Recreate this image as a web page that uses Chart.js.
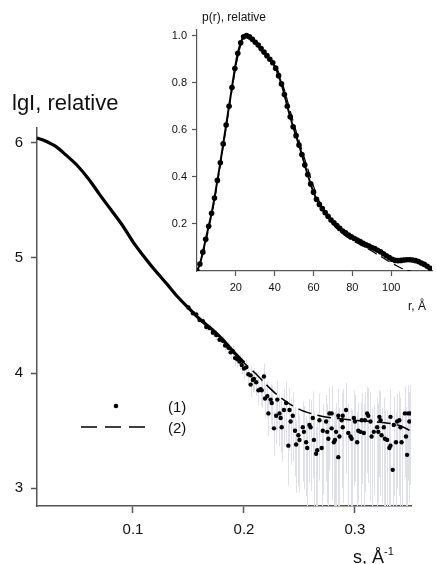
<!DOCTYPE html>
<html>
<head>
<meta charset="utf-8">
<script src="https://cdn.jsdelivr.net/npm/chart.js@4.4.1/dist/chart.umd.min.js"></script>
<style>
body{margin:0;background:#fff;}
#wrap{position:relative;width:436px;height:564px;font-family:"Liberation Sans",Arial,sans-serif;color:#111;}
canvas{position:absolute;}
.t{position:absolute;white-space:nowrap;line-height:1;}
</style>
</head>
<body>
<div id="wrap">
<canvas id="mainChart" width="436" height="564" style="left:0;top:0"></canvas>
<canvas id="insetChart" width="286" height="320" style="left:150px;top:0"></canvas>

<div class="t" style="left:12px;top:92px;font-size:22px">lgI, relative</div>
<div class="t" style="left:353px;top:546px;font-size:18px">s, Å<sup style="font-size:11px;vertical-align:8px">-1</sup></div>
<div class="t" style="left:202px;top:11px;font-size:12px">p(r), relative</div>
<div class="t" style="left:408px;top:300px;font-size:12px">r, Å</div>

<svg style="position:absolute;left:0;top:0" width="436" height="564">
<circle cx="116" cy="406" r="2.3" fill="#000"/>
<line x1="81" y1="427" x2="145" y2="427" stroke="#000" stroke-width="1.5" stroke-dasharray="16 8"/>
</svg>
<div class="t" style="left:168px;top:399px;font-size:15px">(1)</div>
<div class="t" style="left:168px;top:420px;font-size:15px">(2)</div>
</div>

<script>
document.addEventListener("DOMContentLoaded", function () {

/* ================================
   DATA - scattering curve
================================ */

// smooth, dense part of the experimental curve
const denseS  = [0.0135,0.02,0.03,0.04,0.05,0.06,0.07,0.08,0.09,0.10,0.11,0.12,0.13,0.14,0.15,0.16,0.17,0.18,0.19,0.20];
const denseLg = [6.04,6.02,5.97,5.89,5.80,5.685,5.55,5.42,5.29,5.14,5.01,4.89,4.78,4.665,4.565,4.47,4.39,4.30,4.19,4.09];

// noisy experimental points (1) and their relative errors
const expS = [0.150,0.154,0.157,0.160,0.163,0.166,0.169,0.172,0.175,0.178,0.181,0.183,0.186,0.188,0.190,0.192,0.194,0.196,0.198,0.200,
0.202,0.204,0.206,0.206,0.208,0.209,0.211,0.213,0.215,0.216,0.218,0.219,0.221,0.222,0.224,0.225,0.227,0.229,0.230,0.232,
0.233,0.234,0.236,0.238,0.240,0.241,0.242,0.244,0.246,0.247,0.249,0.250,
0.253,0.254,0.256,0.257,0.259,0.260,0.262,0.263,0.265,0.266,0.268,0.270,0.271,0.274,0.275,0.276,0.277,0.279,0.279,0.281,
0.282,0.283,0.285,0.285,0.286,0.288,0.289,0.289,0.292,0.294,0.296,0.297,0.299,0.300,0.302,0.303,0.305,0.306,0.308,0.309,
0.311,0.312,0.314,0.315,0.317,0.320,0.321,0.322,0.323,0.324,0.326,0.327,0.329,0.331,0.332,0.332,0.334,0.335,0.337,0.338,
0.340,0.341,0.342,0.345,0.346,0.347,0.348,0.349,0.350];
const expLg = [4.57,4.52,4.51,4.46,4.45,4.40,4.39,4.35,4.33,4.29,4.28,4.24,4.22,4.18,4.19,4.13,4.12,4.10,4.07,4.04,
4.05,3.99,3.98,3.90,3.94,3.95,3.92,3.85,3.86,3.85,3.97,3.78,3.80,3.65,3.77,3.74,3.52,3.63,3.77,3.65,
3.61,3.53,3.68,3.74,3.37,3.68,3.58,3.63,3.50,3.38,3.46,3.42,
3.53,3.49,3.40,3.35,3.55,3.53,3.61,3.42,3.30,3.33,3.59,3.35,3.50,3.58,3.49,3.43,3.65,3.65,3.52,3.40,
3.42,3.49,3.63,3.27,3.45,3.59,3.63,3.53,3.68,3.48,3.45,3.43,3.61,3.58,3.40,3.50,3.49,3.59,3.48,3.59,
3.65,3.63,3.58,3.45,3.49,3.53,3.49,3.62,3.59,3.46,3.53,3.43,3.42,3.35,3.62,3.37,3.16,3.55,3.40,3.58,
3.59,3.53,3.40,3.65,3.45,3.29,3.65,3.58,3.65];
const expErr = [0.06,0.06,0.07,0.07,0.08,0.08,0.09,0.09,0.10,0.10,0.11,0.12,0.12,0.13,0.14,0.14,0.15,0.16,0.17,0.18,
0.18,0.20,0.20,0.22,0.22,0.24,0.24,0.26,0.28,0.30,0.30,0.32,0.34,0.36,0.38,0.40,0.42,0.44,0.46,0.48,
0.50,0.50,0.52,0.54,0.55,0.56,0.58,0.60,0.60,0.62,0.64,0.65,
0.66,0.68,0.66,0.70,0.68,0.72,0.70,0.74,0.72,0.76,0.70,0.78,0.72,0.70,0.76,0.74,0.68,0.72,0.76,0.80,
0.74,0.78,0.72,0.82,0.76,0.74,0.70,0.78,0.72,0.80,0.76,0.78,0.74,0.70,0.82,0.76,0.80,0.72,0.78,0.76,
0.70,0.74,0.80,0.78,0.72,0.80,0.76,0.70,0.78,0.74,0.82,0.76,0.80,0.78,0.72,0.84,0.80,0.76,0.82,0.74,
0.78,0.80,0.76,0.72,0.80,0.78,0.74,0.80,0.76];

// model curve (2)
const fitS  = [0.0135,0.02,0.03,0.04,0.05,0.06,0.07,0.08,0.09,0.10,0.11,0.12,0.13,0.14,0.15,0.16,0.17,0.18,0.19,0.20,
0.21,0.22,0.23,0.24,0.25,0.26,0.27,0.28,0.29,0.30,0.31,0.32,0.33,0.34,0.35];
const fitLg = [6.04,6.02,5.97,5.89,5.80,5.685,5.55,5.42,5.29,5.14,5.01,4.89,4.78,4.665,4.565,4.47,4.39,4.30,4.19,4.09,
4.00,3.90,3.81,3.74,3.685,3.65,3.625,3.61,3.60,3.59,3.583,3.575,3.565,3.545,3.50];

const sTicks = [0.1,0.2,0.3];
const lgTicks = [3,4,5,6];

/* ================================
   DATA - distance distribution (inset)
================================ */

const prR = [0,1.5,3,4.5,6,7.5,9,10.5,12,13.5,15,16.5,18,19.5,21,22.5,24,25.5,27,28.5,30,31.5,33,34.5,36,37.5,39,40.5,
42,43.5,45,46.5,48,49.5,51,52.5,54,55.5,57,58.5,60,61.5,63,64.5,66,67.5,69,70.5,72,73.5,75,76.5,78,79.5,81,82.5,
84,85.5,87,88.5,90,91.5,93,94.5,96,97.5,99,100.5,102,103.5,105,106.5,108,109.5,111,112.5,114,115.5,117,118.5,120];
const prP = [0.0,0.03,0.08,0.135,0.19,0.245,0.31,0.385,0.46,0.54,0.62,0.70,0.78,0.86,0.925,0.97,0.995,1.0,0.995,0.985,
0.972,0.96,0.945,0.93,0.915,0.90,0.885,0.862,0.83,0.795,0.75,0.70,0.655,0.613,0.575,0.535,0.495,0.45,0.41,0.37,
0.335,0.305,0.283,0.265,0.248,0.232,0.217,0.205,0.193,0.181,0.17,0.162,0.153,0.145,0.138,0.132,0.125,0.118,0.111,0.106,
0.10,0.095,0.088,0.082,0.073,0.065,0.057,0.05,0.045,0.044,0.045,0.047,0.048,0.048,0.047,0.044,0.04,0.034,0.028,0.02,0.012];

const modelR = [0,3,6,9,12,15,18,21,24,27,30,33,36,39,42,45,48,51,54,57,60,63,66,69,72,75,78,81,84,87,90,93,96,99,102,105,108,110];
const modelP = [0,0.07,0.18,0.30,0.45,0.61,0.77,0.91,0.99,0.99,0.965,0.94,0.915,0.89,0.845,0.77,0.68,0.595,0.515,0.435,
0.36,0.295,0.245,0.21,0.18,0.158,0.14,0.125,0.112,0.098,0.085,0.07,0.055,0.04,0.026,0.013,0.003,0];

const rTicks = [20,40,60,80,100];
const pTicks = [0.2,0.4,0.6,0.8,1.0];

const FONT = "'Liberation Sans', Arial, sans-serif";
const AXIS = "#555";

function pts(xs, ys) {
  return xs.map(function (x, i) { return {x: x, y: ys[i]}; });
}

// error bars for the experimental points
const errorBars = {
  id: "errorBars",
  beforeDatasetsDraw: function (chart) {
    const ctx = chart.ctx;
    const xs = chart.scales.x, ys = chart.scales.y, a = chart.chartArea;
    ctx.save();
    ctx.beginPath();
    ctx.rect(a.left, a.top, a.right - a.left, a.bottom - a.top);
    ctx.clip();
    ctx.strokeStyle = "#e0e0ea";
    ctx.lineWidth = 1;
    for (let i = 0; i < expS.length; i++) {
      const r = expErr[i];
      const hi = expLg[i] + Math.log10(1 + r);
      const lo = expLg[i] + Math.log10(1 - r);
      const px = Math.round(xs.getPixelForValue(expS[i])) + 0.5;
      ctx.beginPath();
      ctx.moveTo(px, ys.getPixelForValue(hi));
      ctx.lineTo(px, ys.getPixelForValue(lo));
      ctx.stroke();
    }
    ctx.restore();
  }
};

/* ================================
   MAIN CHART
================================ */

new Chart(document.getElementById("mainChart"), {
  type: "scatter",
  data: {
    datasets: [
      {
        label: "(2)",
        data: pts(fitS, fitLg),
        showLine: true,
        borderColor: "#000",
        borderWidth: 1.5,
        borderDash: [14, 6],
        pointRadius: 0,
        tension: 0.3
      },
      {
        label: "dense",
        data: pts(denseS, denseLg),
        showLine: true,
        borderColor: "#000",
        borderWidth: 3.2,
        pointRadius: 0,
        tension: 0.3
      },
      {
        label: "(1)",
        data: pts(expS, expLg),
        backgroundColor: "#000",
        borderWidth: 0,
        pointRadius: 2.2
      }
    ]
  },
  options: {
    responsive: false,
    animation: false,
    devicePixelRatio: 1,
    layout: {padding: {left: 0, top: 128, right: 25, bottom: 0}},
    plugins: {legend: {display: false}, tooltip: {enabled: false}},
    scales: {
      x: {
        type: "linear",
        min: 0.0135,
        max: 0.3505,
        afterFit: function (s) { s.height = 58; },
        afterBuildTicks: function (s) { s.ticks = sTicks.map(function (v) { return {value: v}; }); },
        border: {display: true, color: AXIS, width: 1.5},
        grid: {drawOnChartArea: false, tickLength: 7, tickColor: AXIS, tickWidth: 1.5},
        ticks: {color: "#111", padding: 8, font: {family: FONT, size: 15}, callback: function (v) { return v.toFixed(1); }}
      },
      y: {
        type: "linear",
        min: 2.846,
        max: 6.128,
        afterFit: function (s) { s.width = 37; },
        afterBuildTicks: function (s) { s.ticks = lgTicks.map(function (v) { return {value: v}; }); },
        border: {display: true, color: AXIS, width: 1.5},
        grid: {drawOnChartArea: false, tickLength: 6, tickColor: AXIS, tickWidth: 1.5},
        ticks: {color: "#111", padding: 8, font: {family: FONT, size: 15}}
      }
    }
  },
  plugins: [errorBars]
});

/* ================================
   INSET - p(r)
================================ */

new Chart(document.getElementById("insetChart"), {
  type: "scatter",
  data: {
    datasets: [
      {
        label: "model",
        data: pts(modelR, modelP),
        showLine: true,
        borderColor: "#000",
        borderWidth: 1.2,
        borderDash: [10, 5],
        pointRadius: 0,
        tension: 0.3
      },
      {
        label: "p(r)",
        data: pts(prR, prP),
        showLine: true,
        borderColor: "#000",
        borderWidth: 2,
        backgroundColor: "#000",
        pointRadius: 2.8,
        pointBorderWidth: 0,
        tension: 0.3
      }
    ]
  },
  options: {
    responsive: false,
    animation: false,
    devicePixelRatio: 1,
    layout: {padding: {left: 0, top: 30, right: 0, bottom: 0}},
    plugins: {legend: {display: false}, tooltip: {enabled: false}},
    scales: {
      x: {
        type: "linear",
        min: 0,
        max: 121,
        afterFit: function (s) { s.height = 49; },
        afterBuildTicks: function (s) { s.ticks = rTicks.map(function (v) { return {value: v}; }); },
        border: {display: true, color: AXIS, width: 1.2},
        grid: {drawOnChartArea: false, tickLength: 5, tickColor: AXIS, tickWidth: 1.2},
        ticks: {color: "#111", padding: 5, font: {family: FONT, size: 11}}
      },
      y: {
        type: "linear",
        min: 0,
        max: 1.024,
        afterFit: function (s) { s.width = 47; },
        afterBuildTicks: function (s) { s.ticks = pTicks.map(function (v) { return {value: v}; }); },
        border: {display: true, color: AXIS, width: 1.2},
        grid: {drawOnChartArea: false, tickLength: 5, tickColor: AXIS, tickWidth: 1.2},
        ticks: {color: "#111", padding: 5, font: {family: FONT, size: 11}, callback: function (v) { return v.toFixed(1); }}
      }
    }
  }
});

});
</script>
</body>
</html>
